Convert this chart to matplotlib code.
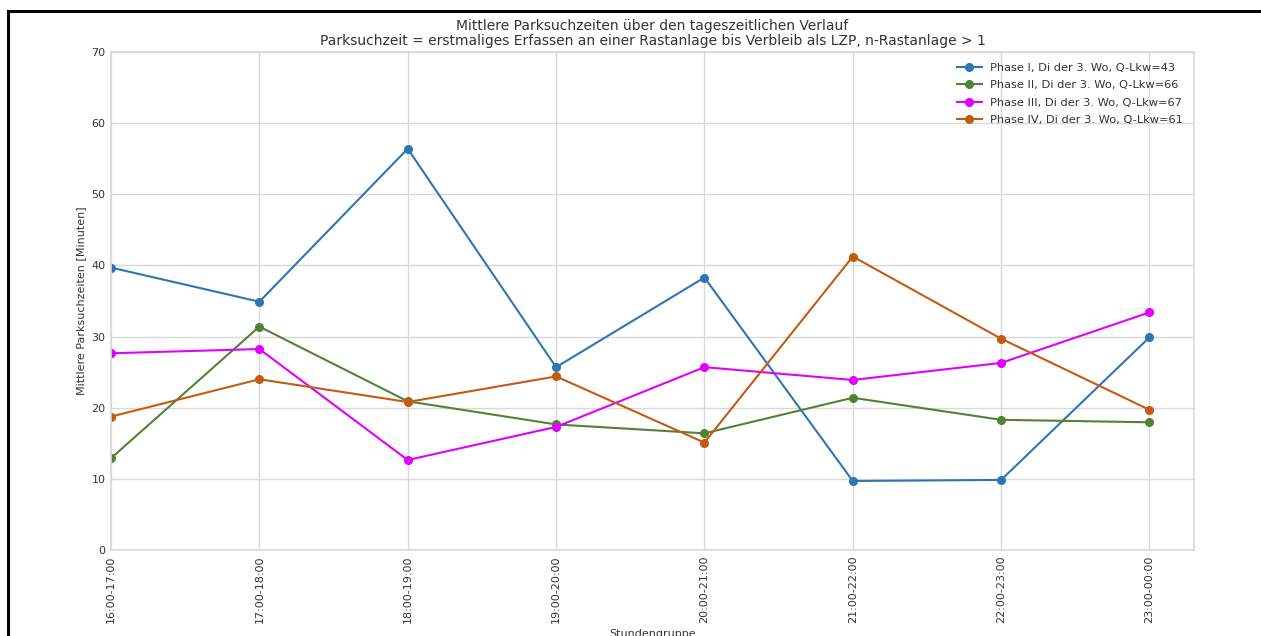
import matplotlib
matplotlib.use("Agg")
import matplotlib.pyplot as plt
from matplotlib.lines import Line2D

# Hour groups on the x axis
stundengruppen = ["16:00-17:00", "17:00-18:00", "18:00-19:00", "19:00-20:00",
                  "20:00-21:00", "21:00-22:00", "22:00-23:00", "23:00-00:00"]

# Mean parking search times per phase [minutes]
phase_1 = [39.7, 34.9, 56.4, 25.7, 38.3, 9.7, 9.85, 29.9]
phase_2 = [12.9, 31.4, 20.9, 17.65, 16.4, 21.4, 18.3, 17.95]
phase_3 = [27.65, 28.25, 12.65, 17.3, 25.7, 23.9, 26.3, 33.4]
phase_4 = [18.75, 24.0, 20.8, 24.4, 15.1, 41.25, 29.7, 19.7]

labels = ["Phase I, Di der 3. Wo, Q-Lkw=43",
          "Phase II, Di der 3. Wo, Q-Lkw=66",
          "Phase III, Di der 3. Wo, Q-Lkw=67",
          "Phase IV, Di der 3. Wo, Q-Lkw=61"]
colors = ["#2e75b6", "#548235", "#e100ff", "#c55a11"]

text_color = "#333333"
grid_color = "#d9d9d9"

plt.rcParams["font.family"] = ["DejaVu Sans"]
plt.rcParams["text.color"] = text_color
plt.rcParams["axes.labelcolor"] = text_color
plt.rcParams["xtick.color"] = text_color
plt.rcParams["ytick.color"] = text_color

W, H = 1261, 636
fig = plt.figure(figsize=(W / 100, H / 100), dpi=100)
ax = fig.add_axes([111 / W, (H - 550) / H, (1194 - 111) / W, (550 - 52) / H])

x = list(range(len(stundengruppen)))
for series, lab, col in zip([phase_1, phase_2, phase_3, phase_4], labels, colors):
    ax.plot(x, series, color=col, lw=1.5, marker="o", ms=5.5, label=lab)

ax.set_xlim(0, 7.3)
ax.set_ylim(0, 70)
ax.set_yticks(range(0, 71, 10))
ax.set_xticks(x)
ax.set_xticklabels(stundengruppen, rotation=90, fontsize=8)
ax.tick_params(axis="y", labelsize=8)
ax.tick_params(length=0, pad=4)

ax.grid(True, color=grid_color, lw=1.0)
ax.set_axisbelow(True)
for s in ax.spines.values():
    s.set_color(grid_color)
    s.set_linewidth(1.25)

ax.set_ylabel("Mittlere Parksuchzeiten [Minuten]", fontsize=8)
ax.set_xlabel("Stundengruppe", fontsize=8)
ax.set_title("Mittlere Parksuchzeiten über den tageszeitlichen Verlauf\n"
             "Parksuchzeit = erstmaliges Erfassen an einer Rastanlage bis Verbleib als LZP, n-Rastanlage > 1",
             fontsize=10, pad=5, linespacing=1.1)

leg = ax.legend(loc="upper right", frameon=False, fontsize=8.2, handlelength=2.2,
                labelspacing=0.62, borderaxespad=0.6, handletextpad=0.7)

# Black frame around the figure
fig.add_artist(Line2D([8 / W, 1], [1 - 11 / H, 1 - 11 / H], color="black", lw=2.2,
                      transform=fig.transFigure))
fig.add_artist(Line2D([8 / W, 8 / W], [0, 1 - 11 / H], color="black", lw=2.2,
                      transform=fig.transFigure))

fig.savefig("out.png", dpi=100)
